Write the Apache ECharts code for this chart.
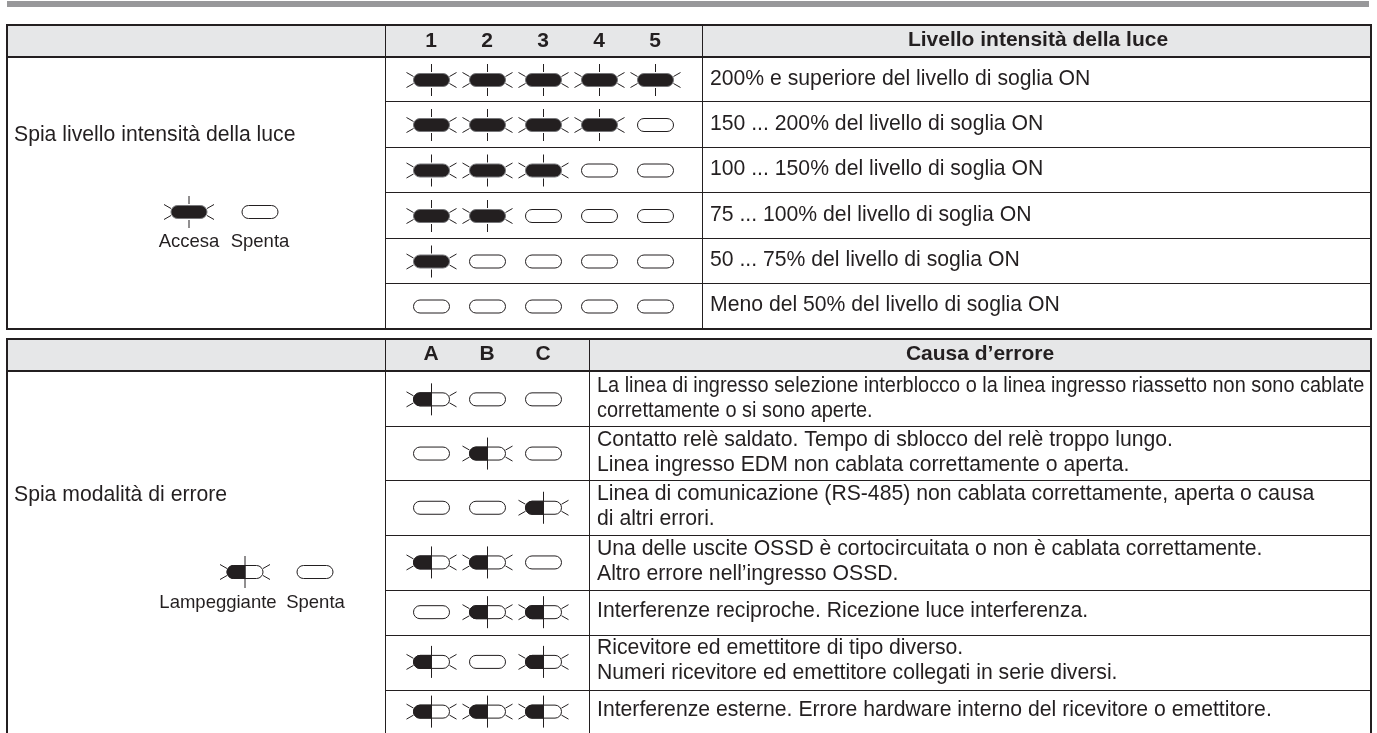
<!DOCTYPE html>
<html>
<head>
<meta charset="utf-8">
<title>Spie</title>
<style>
html, body { margin: 0; padding: 0; background: #fff; }
#container { width: 1377px; height: 733px; }
</style>
<script src="https://cdn.jsdelivr.net/npm/echarts@6/dist/echarts.min.js"></script>
</head>
<body>
<div id="container"></div>
<script>
// header labels of the led columns
var levelColumns = ["1", "2", "3", "4", "5"];
var errorColumns = ["A", "B", "C"];

// 1 = led on / blinking, 0 = led off
var levelStates = [
    [1, 1, 1, 1, 1],
    [1, 1, 1, 1, 0],
    [1, 1, 1, 0, 0],
    [1, 1, 0, 0, 0],
    [1, 0, 0, 0, 0],
    [0, 0, 0, 0, 0]
];
var errorStates = [
    [1, 0, 0],
    [0, 1, 0],
    [0, 0, 1],
    [1, 1, 0],
    [0, 1, 1],
    [1, 0, 1],
    [1, 1, 1]
];

var levelTexts = [
    "200% e superiore del livello di soglia ON",
    "150 ... 200% del livello di soglia ON",
    "100 ... 150% del livello di soglia ON",
    "75 ... 100% del livello di soglia ON",
    "50 ... 75% del livello di soglia ON",
    "Meno del 50% del livello di soglia ON"
];
var errorTexts = [
    "La linea di ingresso selezione interblocco o la linea ingresso riassetto non sono cablate\ncorrettamente o si sono aperte.",
    "Contatto relè saldato. Tempo di sblocco del relè troppo lungo.\nLinea ingresso EDM non cablata correttamente o aperta.",
    "Linea di comunicazione (RS-485) non cablata correttamente, aperta o causa\ndi altri errori.",
    "Una delle uscite OSSD è cortocircuitata o non è cablata correttamente.\nAltro errore nell’ingresso OSSD.",
    "Interferenze reciproche. Ricezione luce interferenza.",
    "Ricevitore ed emettitore di tipo diverso.\nNumeri ricevitore ed emettitore collegati in serie diversi.",
    "Interferenze esterne. Errore hardware interno del ricevitore o emettitore."
];

var levelTitle = "Livello intensità della luce";
var errorTitle = "Causa d’errore";
var levelLabel = "Spia livello intensità della luce";
var errorLabel = "Spia modalità di errore";

// layout, pixels
var levelRowHeights = [44, 46, 45, 46, 45, 45];
var errorRowHeights = [55, 54, 55, 55, 45, 55, 45];
var levelTop = 57, errorTop = 371;
var INK = "#231f20";
var FONT = '"Liberation Sans", Arial, sans-serif';
var TEXT_SIZE = 21.2;
// the first error row is set tighter in the original so it fits the cell
var errorSqueeze = { 0: 0.94 };

function centers(heights) {
    var out = [], y = 0;
    for (var i = 0; i < heights.length; i++) {
        out.push(y + heights[i] / 2);
        y += heights[i];
    }
    return out;
}

function sum(heights) {
    return heights.reduce(function (a, b) { return a + b; }, 0);
}

function bar(x, y, w, h, fill) {
    return { type: "rect", silent: true, shape: { x: x, y: y, width: w, height: h }, style: { fill: fill || INK } };
}

function line(x1, y1, x2, y2) {
    return { type: "line", silent: true, shape: { x1: x1, y1: y1, x2: x2, y2: y2 }, style: { stroke: INK, lineWidth: 1 } };
}

function label(text, x, y, size, weight, align, scaleX) {
    return {
        type: "text", silent: true, x: x, y: y, scaleX: scaleX || 1,
        style: {
            text: text, fill: INK, font: (weight || "normal") + " " + size + "px " + FONT,
            textAlign: align || "left", textVerticalAlign: "middle", lineHeight: 25
        }
    };
}

// blink: 0 off, 1 fully on, 2 half filled (error table)
function led(cx, cy, blink) {
    var kids = [];
    var W = 36, H = 13;
    if (blink) {
        kids.push(line(cx - 25, cy - 7.5, cx - 18, cy - 3.5));
        kids.push(line(cx - 25, cy + 7.5, cx - 18, cy + 3.5));
        kids.push(line(cx + 25, cy - 7.5, cx + 18, cy - 3.5));
        kids.push(line(cx + 25, cy + 7.5, cx + 18, cy + 3.5));
    }
    if (blink == 1) {
        kids.push({
            type: "rect", silent: true,
            shape: { x: cx - W / 2, y: cy - H / 2, width: W, height: H, r: H / 2 },
            style: { fill: INK, stroke: "#77777a", lineWidth: 1 }
        });
        kids.push(line(cx, cy - 16, cx, cy - 8));
        kids.push(line(cx, cy + 8, cx, cy + 16));
    } else {
        kids.push({
            type: "rect", silent: true,
            shape: { x: cx - W / 2, y: cy - H / 2, width: W, height: H, r: H / 2 },
            style: { fill: "#fff", stroke: INK, lineWidth: 1 }
        });
    }
    if (blink == 2) {
        kids.push({
            type: "rect", silent: true,
            shape: { x: cx - W / 2, y: cy - H / 2, width: W / 2, height: H, r: [H / 2, 0, 0, H / 2] },
            style: { fill: INK, stroke: INK, lineWidth: 1 }
        });
        kids.push(line(cx, cy - 16, cx, cy + 16));
    }
    return { type: "group", silent: true, children: kids };
}

function cellData(states, heights) {
    var mid = centers(heights), out = [];
    states.forEach(function (row, r) {
        row.forEach(function (v, c) {
            out.push([c, mid[r], v]);
        });
    });
    return out;
}

function ledSeries(index, states, heights, blinkKind) {
    return {
        type: "custom", xAxisIndex: index, yAxisIndex: index, silent: true, animation: false,
        data: cellData(states, heights),
        renderItem: function (params, api) {
            var p = api.coord([api.value(0), api.value(1)]);
            return led(p[0] + 0.5, p[1] + 1, api.value(2) ? blinkKind : 0);
        }
    };
}

function textSeries(index, texts, heights, gap, squeeze) {
    return {
        type: "custom", xAxisIndex: index, yAxisIndex: index, silent: true, animation: false,
        data: centers(heights).map(function (m) { return [0, m]; }),
        renderItem: function (params, api) {
            var y = api.coord([0, api.value(1)])[1];
            var right = params.coordSys.x + params.coordSys.width;
            return label(texts[params.dataIndex], right + gap, y, TEXT_SIZE, "normal", "left", squeeze[params.dataIndex]);
        }
    };
}

function ledAxis(index, names, margin) {
    return {
        type: "category", gridIndex: index, position: "top", data: names,
        axisLine: { show: false }, axisTick: { show: false }, splitLine: { show: false },
        axisLabel: { color: INK, fontFamily: FONT, fontWeight: "bold", fontSize: 21, margin: margin, verticalAlign: "middle" }
    };
}

function rowAxis(index, heights) {
    return { type: "value", gridIndex: index, inverse: true, min: 0, max: sum(heights), show: false };
}

function chrome() {
    var els = [];
    var b1 = levelTop + sum(levelRowHeights);

    els.push(bar(7, 1, 1362, 6, "#98989a"));

    // first table
    els.push(bar(8, 26, 1362, 30, "#e6e7e8"));
    els.push(bar(6, 24, 1366, 2));
    els.push(bar(6, 56, 1366, 2));
    els.push(bar(6, b1, 1366, 2));
    els.push(bar(6, 24, 2, b1 - 22));
    els.push(bar(1370, 24, 2, b1 - 22));
    els.push(bar(385, 24, 1, b1 - 24));
    els.push(bar(702, 24, 1, b1 - 24));
    var y = levelTop;
    levelRowHeights.slice(0, -1).forEach(function (h) {
        y += h;
        els.push(bar(385, y, 986, 1));
    });

    // second table
    els.push(bar(8, 340, 1362, 30, "#e6e7e8"));
    els.push(bar(6, 338, 1366, 2));
    els.push(bar(6, 370, 1366, 2));
    els.push(bar(6, 338, 2, 395));
    els.push(bar(1370, 338, 2, 395));
    els.push(bar(385, 338, 1, 395));
    els.push(bar(589, 338, 1, 395));
    y = errorTop;
    errorRowHeights.forEach(function (h) {
        y += h;
        if (y < 733) els.push(bar(385, y, 986, 1));
    });

    // titles and left column
    els.push(label(levelTitle, 1038, 40.5, 21, "bold", "center"));
    els.push(label(errorTitle, 980, 354, 21, "bold", "center"));
    els.push(label(levelLabel, 14, 135, TEXT_SIZE));
    els.push(label(errorLabel, 14, 495, TEXT_SIZE));

    // legend keys
    els.push(led(189, 212, 1));
    els.push(led(260, 212, 0));
    els.push(label("Accesa", 189, 242, 18.5, "normal", "center"));
    els.push(label("Spenta", 260, 242, 18.5, "normal", "center"));
    els.push(led(245, 572, 2));
    els.push(led(315, 572, 0));
    els.push(label("Lampeggiante", 218, 603, 18.5, "normal", "center"));
    els.push(label("Spenta", 315.5, 603, 18.5, "normal", "center"));
    return els;
}

var myChart = echarts.init(document.getElementById("container"), null, { renderer: "canvas" });
myChart.setOption({
    animation: false,
    backgroundColor: "#fff",
    tooltip: { show: false },
    graphic: { elements: chrome() },
    grid: [
        { left: 403, top: levelTop, width: 280, height: sum(levelRowHeights) },
        { left: 403, top: errorTop, width: 168, height: sum(errorRowHeights) }
    ],
    xAxis: [ledAxis(0, levelColumns, 16), ledAxis(1, errorColumns, 17)],
    yAxis: [rowAxis(0, levelRowHeights), rowAxis(1, errorRowHeights)],
    series: [
        ledSeries(0, levelStates, levelRowHeights, 1),
        ledSeries(1, errorStates, errorRowHeights, 2),
        textSeries(0, levelTexts, levelRowHeights, 27, {}),
        textSeries(1, errorTexts, errorRowHeights, 26, errorSqueeze)
    ]
});
</script>
</body>
</html>
